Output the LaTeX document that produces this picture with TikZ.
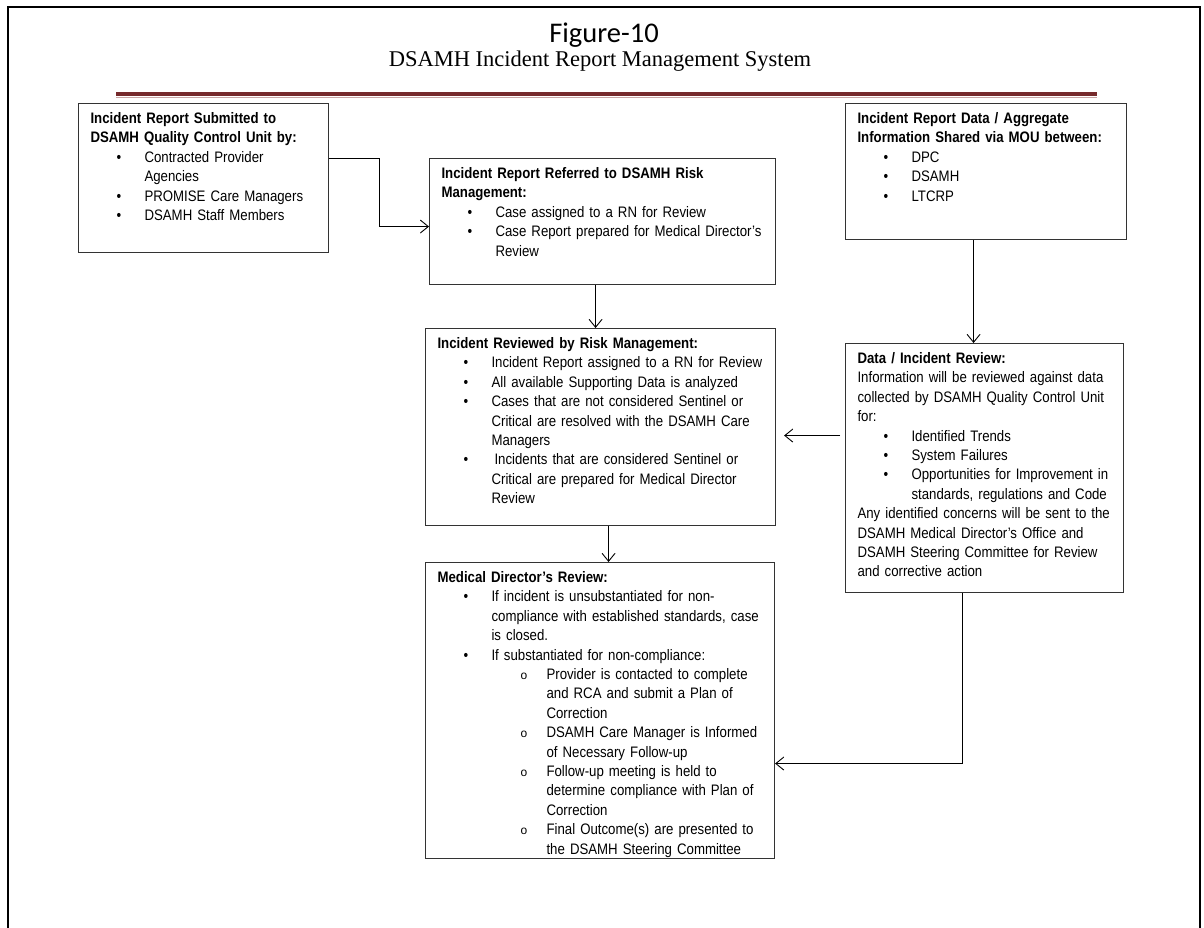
\documentclass[tikz,border=0pt]{standalone}
\usepackage{fontspec}
\setmainfont{Liberation Sans}[FakeStretch=0.87]
\newfontfamily\titlefont{Carlito}
\newfontfamily\subtitlefont{Liberation Serif}
\newfontfamily\ringfont{Liberation Sans}
\usetikzlibrary{arrows.meta}

\definecolor{rulered}{RGB}{118,42,44}
\definecolor{rulepink}{RGB}{200,165,165}

% bullet items, first and second level
\newcommand{\bul}[1]{\par\hangindent=54pt\hangafter=1\noindent\hspace*{26pt}\makebox[28pt][l]{\textbullet}#1\par}
\newcommand{\subbul}[1]{\par\hangindent=109pt\hangafter=1\noindent\hspace*{83pt}\makebox[26pt][l]{\raisebox{0.5pt}{\ringfont\fontsize{12}{12}\selectfont o}}#1\par}

\begin{document}
\begin{tikzpicture}[x=1pt, y=-1pt]
\tikzstyle{vertex} = [rectangle, draw = black!80, line width=1.1pt, anchor=north west, inner xsep=12pt, inner ysep=10pt, text height=10pt, font=\fontsize{15.2}{19.4}\selectfont, execute at begin node={\rightskip=-30pt plus 1fil\relax\hyphenpenalty=10000\relax}]
\tikzstyle{edge} = [-{Straight Barb[length=8pt,width=13pt]}, line width=0.9pt]
\useasboundingbox (0,0) rectangle (1204,928);
% -----------------------------------
% Frame and heading
\draw[line width=2.5pt] (8,935) -- (8,7) -- (1200,7) -- (1200,935);
\node[anchor=base] (fig) at (604,43) {\titlefont\fontsize{28.5}{28.5}\selectfont Figure-10};
\node[anchor=base] (sys) at (600,67) {\subtitlefont\fontsize{22.5}{22.5}\selectfont DSAMH Incident Report Management System};
\draw[rulered, line width=4pt] (116,94) -- (1097,94);
\draw[rulepink, line width=1.5pt] (116,97.5) -- (1097,97.5);

% -----------------------------------
% Left column
\node[vertex, text width=226pt, text depth=119pt] (submit) at (78,103) {\textbf{Incident Report Submitted to\newline DSAMH Quality Control Unit by:}
\bul{Contracted Provider\newline Agencies}
\bul{PROMISE Care Managers}
\bul{DSAMH Staff Members}};

% -----------------------------------
% Middle column
\node[vertex, text width=322pt, text depth=96pt] (referred) at (429,158) {\textbf{Incident Report Referred to DSAMH Risk\newline Management:}
\bul{Case assigned to a RN for Review}
\bul{Case Report prepared for Medical Director’s\newline Review}};

\node[vertex, text width=326pt, text depth=167pt] (reviewed) at (425,328) {\textbf{Incident Reviewed by Risk Management:}
\bul{Incident Report assigned to a RN for Review}
\bul{All available Supporting Data is analyzed}
\bul{Cases that are not considered Sentinel or\newline Critical are resolved with the DSAMH Care\newline Managers}
\bul{\hspace*{3pt}Incidents that are considered Sentinel or\newline Critical are prepared for Medical Director\newline Review}};

\node[vertex, text width=325pt, text depth=266pt] (director) at (425,562) {\textbf{Medical Director’s Review:}
\bul{If incident is unsubstantiated for non-\newline compliance with established standards, case\newline is closed.}
\bul{If substantiated for non-compliance:}
\subbul{Provider is contacted to complete\newline and RCA and submit a Plan of\newline Correction}
\subbul{DSAMH Care Manager is Informed\newline of Necessary Follow-up}
\subbul{Follow-up meeting is held to\newline determine compliance with Plan of\newline Correction}
\subbul{Final Outcome(s) are presented to\newline the DSAMH Steering Committee}};

% -----------------------------------
% Right column
\node[vertex, text width=257pt, text depth=106pt] (shared) at (845,103) {\textbf{Incident Report Data / Aggregate\newline Information Shared via MOU between:}
\bul{DPC}
\bul{DSAMH}
\bul{LTCRP}};

\node[vertex, text width=254pt, text depth=219pt] (datarev) at (845,343) {\textbf{Data / Incident Review:}\par
Information will be reviewed against data\newline collected by DSAMH Quality Control Unit\newline for:
\bul{Identified Trends}
\bul{System Failures}
\bul{Opportunities for Improvement in\newline standards, regulations and Code}
Any identified concerns will be sent to the\newline DSAMH Medical Director’s Office and\newline DSAMH Steering Committee for Review\newline and corrective action};

% -----------------------------------
% Connectors
\coordinate (back) at ([yshift=-8.5pt]reviewed.east);
\draw[edge] ([yshift=19.5pt]submit.east) -- ++(50,0) |- ([yshift=-5pt]referred.west);
\draw[edge] ([xshift=-7pt]referred.south) -- ([xshift=-5pt]reviewed.north);
\draw[edge] ([xshift=8pt]reviewed.south) -- ([xshift=8.5pt]director.north);
\draw[edge] ([xshift=-12.5pt]shared.south) -- ([xshift=-11pt]datarev.north);
\draw[edge, shorten <=5pt, shorten >=8pt] (back -| datarev.west) -- (back);
\draw[edge] ([xshift=-22pt]datarev.south) |- ([yshift=-53pt]director.east);
% -----------------------------------
\end{tikzpicture}
\end{document}
